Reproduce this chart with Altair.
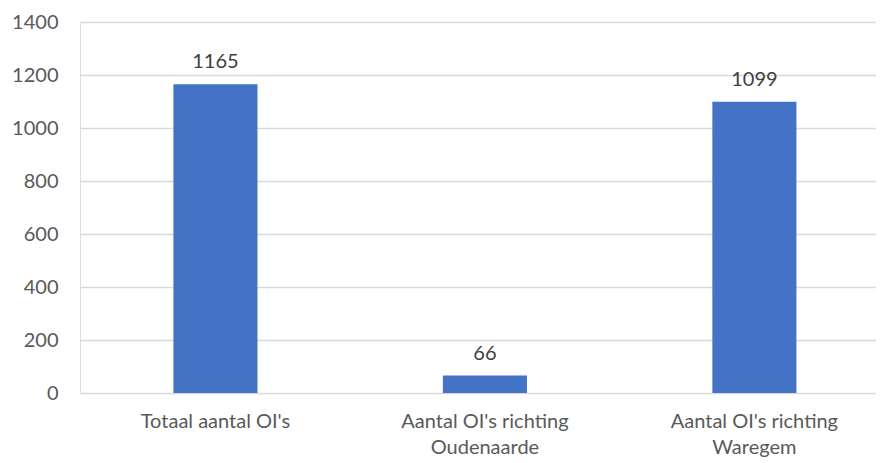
import altair as alt
import pandas as pd

categories = ["Totaal aantal OI's", "Aantal OI's richting Oudenaarde", "Aantal OI's richting Waregem"]
values = [1165, 66, 1099]

df = pd.DataFrame({"cat": categories, "val": values})

font = "Lato"
label_expr = ("indexof(datum.label,'richting')>0 ? "
              "[substring(datum.label,0,indexof(datum.label,'richting')+8), "
              "substring(datum.label,indexof(datum.label,'richting')+9)] : datum.label")

x = alt.X("cat:N", sort=categories, title=None,
          scale=alt.Scale(paddingInner=0.688, paddingOuter=0.321, align=0.54),
          axis=alt.Axis(labelAngle=0, labelExpr=label_expr, labelFont=font, labelFontSize=20,
                        labelColor="#595959", labelLineHeight=26, labelPadding=18,
                        domain=False, ticks=False, grid=False))
y = alt.Y("val:Q", title=None,
          scale=alt.Scale(domain=[0, 1400]),
          axis=alt.Axis(values=list(range(0, 1401, 200)), format="d", labelFont=font, labelFontSize=20,
                        labelColor="#595959", labelPadding=22, domain=False, ticks=False,
                        grid=True, gridColor="#D9D9D9", gridWidth=1.5))

bars = alt.Chart(df).mark_bar(color="#4472C4").encode(x=x, y=y)
text = alt.Chart(df).mark_text(dy=-22, font=font, fontSize=20, color="#404040", baseline="middle").encode(
    x=alt.X("cat:N", sort=categories), y="val:Q", text="val:Q")

chart = (bars + text).properties(
    width=796, height=371,
    autosize=alt.AutoSizeParams(type="none"),
    padding={"left": 72, "top": 14, "right": 0, "bottom": 68},
).configure_view(stroke=None).configure(background="white")

chart.save("out.html", embed_options={"renderer": "svg", "actions": False})
